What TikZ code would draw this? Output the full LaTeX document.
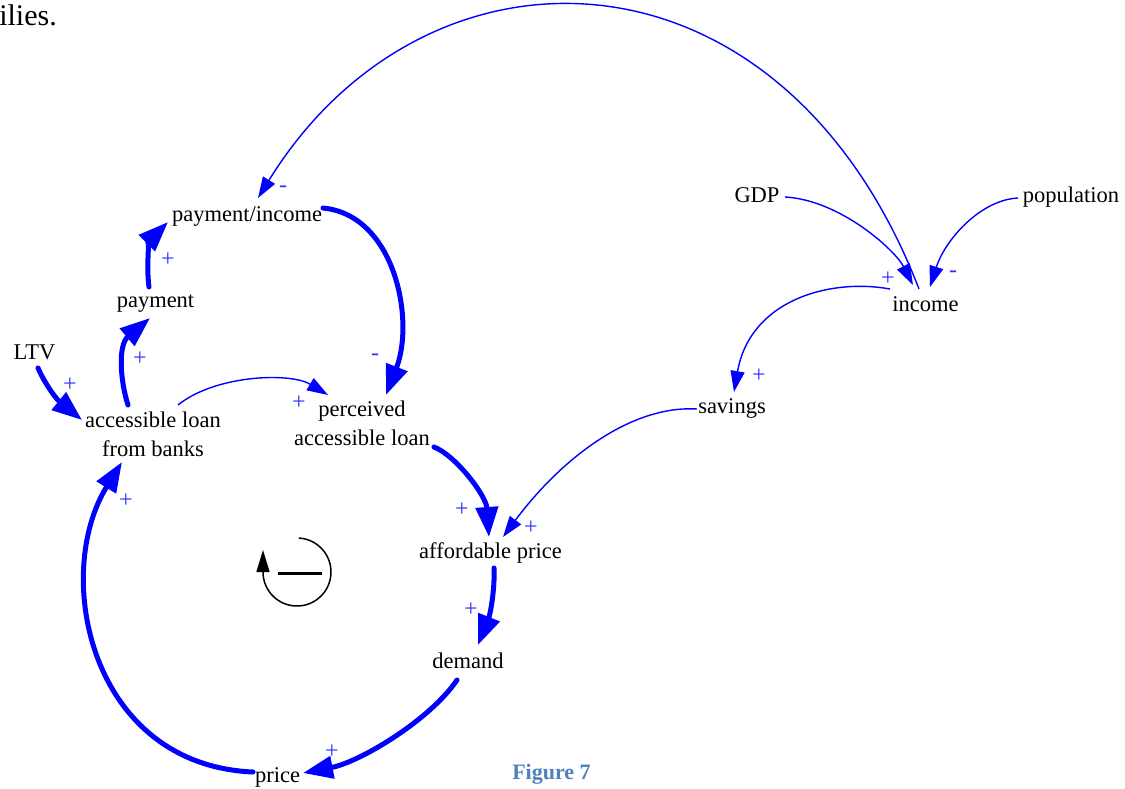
\documentclass[tikz,border=0pt]{standalone}
\usepackage{fontspec}
\setmainfont{Liberation Serif}
\usetikzlibrary{arrows.meta,calc}
\definecolor{lnk}{rgb}{0,0,1}
\definecolor{pol}{RGB}{50,50,255}
\definecolor{capc}{RGB}{79,129,189}
\tikzset{
 var/.style={font=\fontsize{22.5}{29}\selectfont, inner sep=1pt, anchor=base},
 vartwo/.style={font=\fontsize{22.5}{29}\selectfont, inner sep=1pt, align=center},
 sgn/.style={font=\fontsize{24}{28}\selectfont, text=pol, inner sep=0pt},
 thinlink/.style={draw=lnk, line width=1.4pt, -{Triangle[length=21pt,width=14pt]}},
 thicklink/.style={draw=lnk, line width=5pt, line cap=round, -{Triangle[length=30pt,width=22pt]}},
}
\begin{document}
\begin{tikzpicture}[x=1pt,y=-1pt]
\fill[white] (0,0) rectangle (1125,789);
\useasboundingbox (0,0) rectangle (1125,789);

\node[font=\fontsize{30}{36}\selectfont, inner sep=0pt, anchor=base east] (ilies) at (57,26) {ilies.};

\node[var] (payinc) at (247,222) {payment/income};
\node[var] (payment) at (155.5,307) {payment};
\node[var] (ltv) at (34.5,359) {LTV};
\node[vartwo] (acc) at (153,434) {accessible loan\\from banks};
\node[vartwo] (perc) at (362,423) {perceived\\accessible loan};
\node[var] (afford) at (490.5,558) {affordable price};
\node[var] (demand) at (468,668) {demand};
\node[var] (price) at (277.5,782) {price};
\node[var] (gdp) at (757,203) {GDP};
\node[var] (pop) at (1071,203) {population};
\node[var] (income) at (925.5,311) {income};
\node[var] (savings) at (732,413) {savings};
\node[font=\fontsize{22}{26}\selectfont\bfseries, text=capc, inner sep=0pt, anchor=base] (fig) at (551.5,779) {Figure 7};

% connectors
\draw[thinlink] ([shift={(-6.5,-22)}]income.base) .. controls (781,-68) and (426,-74) .. ([shift={(11,-24)}]payinc.base);
\draw[thicklink] ([shift={(76,-14)}]payinc.base) .. controls (395,215) and (415,320) .. ([shift={(24,-28)}]perc.center);
\draw[thicklink] ([shift={(-6.5,-20)}]payment.base) .. controls (146,265) and (150,240) .. ([shift={(-79,0)}]payinc.base);
\draw[thicklink] ([shift={(-25,-29)}]acc.center) .. controls (120,380) and (118,345) .. ([shift={(-5.5,11)}]payment.base);
\draw[thicklink] ([shift={(3.5,9)}]ltv.base) .. controls (43,380) and (55,398) .. ([shift={(-71,-14)}]acc.center);
\draw[thinlink] ([shift={(25,-29)}]acc.center) .. controls (215,375) and (290,372) .. ([shift={(-34,-28)}]perc.center);
\draw[thicklink] ([shift={(72,24)}]perc.center) .. controls (455,455) and (486,495) .. ([shift={(-1.5,-21)}]afford.base);
\draw[thinlink] ([shift={(-35,-4)}]savings.base) .. controls (630,405) and (560,460) .. ([shift={(12.5,-21)}]afford.base);
\draw[thicklink] ([shift={(3.5,10)}]afford.base) .. controls (495,590) and (490,615) .. ([shift={(10,-23)}]demand.base);
\draw[thicklink] ([shift={(-11,12)}]demand.base) .. controls (430,720) and (360,762) .. ([shift={(25.5,-9)}]price.base);
\draw[thicklink] ([shift={(-24.5,-10)}]price.base) .. controls (90,765) and (52,575) .. ([shift={(-31,28)}]acc.center);
\draw[thinlink] ([shift={(28,-6)}]gdp.base) .. controls (840,200) and (895,250) .. ([shift={(-12.5,-26)}]income.base);
\draw[thinlink] ([shift={(-53,-5)}]pop.base) .. controls (980,200) and (945,240) .. ([shift={(4.5,-24)}]income.base);
\draw[thinlink] ([shift={(-35.5,-22)}]income.base) .. controls (830,278) and (750,300) .. ([shift={(2,-21)}]savings.base);

% polarity signs
\node[sgn] (p1) at (283,189) {-};
\node[sgn] (p2) at (168,260) {+};
\node[sgn] (p3) at (140,359) {+};
\node[sgn] (p4) at (70,385) {+};
\node[sgn] (p5) at (375,357) {-};
\node[sgn] (p6) at (299,403) {+};
\node[sgn] (p7) at (462,510) {+};
\node[sgn] (p8) at (531,528) {+};
\node[sgn] (p9) at (471,610) {+};
\node[sgn] (p10) at (332,752) {+};
\node[sgn] (p11) at (126,501) {+};
\node[sgn] (p12) at (888,279) {+};
\node[sgn] (p13) at (953,274) {-};
\node[sgn] (p14) at (759,376) {+};

% loop symbol
\coordinate (loopc) at (297,572);
\draw[line width=1.5pt, -{Triangle[length=22pt,width=13pt]}] ($(loopc)+(-87:34)$) arc[start angle=-87, end angle=180, radius=34] -- ++(0,-22);
\draw[line width=3pt] ($(loopc)+(-19,1)$) -- ($(loopc)+(25,1)$);
\end{tikzpicture}
\end{document}
